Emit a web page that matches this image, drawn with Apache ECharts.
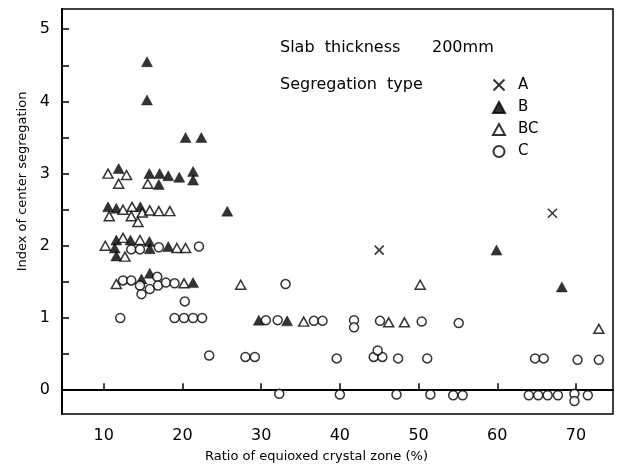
<!DOCTYPE html>
<html>
<head>
<meta charset="utf-8">
<script src="https://cdn.jsdelivr.net/npm/echarts@6/dist/echarts.min.js"></script>
<style>
  html, body { margin: 0; padding: 0; background: #fff; }
  #chart { width: 618px; height: 473px; }
</style>
</head>
<body>
<div id="chart"></div>
<script>
// 数据: [比例 %, 偏析指数]
var typeA = [[45.0, 1.94], [67.0, 2.45]];
var typeB = [
  [15.5, 4.55], [15.5, 4.02], [20.4, 3.5], [22.4, 3.5],
  [11.9, 3.07], [15.8, 3.0], [17.1, 3.0], [18.2, 2.97], [19.6, 2.95], [21.35, 3.03], [21.35, 2.91], [17.0, 2.85],
  [10.55, 2.54], [11.6, 2.52], [14.65, 2.54], [25.7, 2.48],
  [11.6, 2.08], [13.4, 2.08], [15.8, 2.06], [11.4, 1.97], [11.6, 1.86], [15.85, 1.96], [18.2, 1.99],
  [14.8, 1.54], [15.85, 1.62], [21.35, 1.49],
  [29.7, 0.97], [33.3, 0.96],
  [59.9, 1.94], [68.2, 1.43]
];
var typeBC = [
  [10.55, 3.0], [12.9, 2.98], [11.9, 2.86], [15.6, 2.86],
  [10.7, 2.41], [12.45, 2.5], [13.6, 2.54], [13.5, 2.41], [14.9, 2.46], [14.35, 2.33], [15.85, 2.49], [17.0, 2.48], [18.4, 2.48],
  [10.2, 2.0], [12.45, 2.11], [14.6, 2.08], [12.7, 1.85], [19.3, 1.97], [20.4, 1.97],
  [11.6, 1.47], [20.2, 1.48], [27.4, 1.46], [50.2, 1.46],
  [35.4, 0.95], [46.2, 0.94], [48.2, 0.94], [72.9, 0.85]
];
var typeC = [
  [13.5, 1.95], [14.6, 1.95], [17.0, 1.98], [22.1, 1.99],
  [12.45, 1.52], [13.5, 1.52], [14.6, 1.45], [16.8, 1.57], [15.85, 1.40], [16.9, 1.45], [14.8, 1.33], [17.9, 1.49], [19.0, 1.48], [20.3, 1.23],
  [12.1, 1.0], [19.0, 1.0], [20.2, 1.0], [21.35, 1.0], [22.5, 1.0],
  [33.1, 1.47],
  [30.6, 0.97], [32.1, 0.97], [36.7, 0.96], [37.8, 0.96], [41.8, 0.97], [41.8, 0.87], [45.1, 0.96], [50.4, 0.95], [55.1, 0.93],
  [23.4, 0.48], [28.0, 0.46], [29.2, 0.46], [39.6, 0.44], [44.3, 0.46], [45.4, 0.46], [44.8, 0.55], [47.4, 0.44], [51.1, 0.44],
  [64.8, 0.44], [65.9, 0.44], [70.2, 0.42], [72.9, 0.42],
  [32.3, -0.05], [40.0, -0.06], [47.2, -0.06], [51.5, -0.06], [54.4, -0.07], [55.6, -0.07],
  [64.0, -0.07], [65.2, -0.07], [66.4, -0.07], [67.7, -0.07], [69.8, -0.05], [69.8, -0.15], [71.5, -0.07]
];
var xTicks = [10, 20, 30, 40, 50, 60, 70];
var yTicks = [0, 0.5, 1, 1.5, 2, 2.5, 3, 3.5, 4, 4.5, 5];
var yLabels = [0, 1, 2, 3, 4, 5];

var chart = echarts.init(document.getElementById('chart'));
var font = 'DejaVu Sans';
var crossPath = 'path://M0,0L10,10M10,0L0,10';

var option = {
  animation: false,
  textStyle: { fontFamily: font, color: '#000' },
  grid: {
    left: 62, right: 5, top: 9, bottom: 59,
    show: true, borderColor: '#000', borderWidth: 1.5
  },
  xAxis: {
    type: 'value',
    min: 4.7, max: 74.7,
    name: 'Ratio of equioxed crystal zone (%)',
    nameLocation: 'middle',
    nameGap: 36,
    nameTextStyle: { fontSize: 13, color: '#000', padding: [0, 42, 0, 0] },
    splitLine: { show: false },
    axisLine: { lineStyle: { color: '#000', width: 2 } },
    axisTick: { inside: true, length: 7, customValues: xTicks, lineStyle: { color: '#000', width: 1.5 } },
    axisLabel: { customValues: xTicks, fontSize: 16, color: '#000', margin: 14 }
  },
  yAxis: {
    type: 'value',
    min: -0.33, max: 5.28,
    name: 'Index of center segregation',
    nameLocation: 'middle',
    nameRotate: 90,
    nameGap: 26,
    nameTextStyle: { fontSize: 13, color: '#000', padding: [0, 0, 0, 60] },
    splitLine: { show: false },
    axisLine: { lineStyle: { color: '#000', width: 2 } },
    axisTick: { inside: true, length: 7, customValues: yTicks, lineStyle: { color: '#000', width: 1.5 } },
    axisLabel: { customValues: yLabels, fontSize: 16, color: '#000', margin: 12 }
  },
  legend: {
    orient: 'vertical',
    left: 486, top: 72,
    itemWidth: 12, itemHeight: 11, itemGap: 7,
    textStyle: { fontSize: 15, color: '#000', fontFamily: font, padding: [0, 0, 0, 8] },
    data: ['A', 'B', 'BC', 'C']
  },
  graphic: [
    { type: 'text', left: 280, top: 40, style: { text: 'Slab  thickness', font: '16px "DejaVu Sans"', fill: '#000' } },
    { type: 'text', left: 432, top: 40, style: { text: '200mm', font: '16px "DejaVu Sans"', fill: '#000' } },
    { type: 'text', left: 280, top: 77, style: { text: 'Segregation  type', font: '16px "DejaVu Sans"', fill: '#000' } }
  ],
  series: [
    {
      name: 'A', type: 'scatter', data: typeA,
      symbol: crossPath, symbolSize: 9,
      itemStyle: { color: 'none', borderColor: '#000', borderWidth: 1.5 }
    },
    {
      name: 'B', type: 'scatter', data: typeB,
      symbol: 'triangle', symbolSize: [11, 10],
      itemStyle: { color: '#000', borderColor: '#000', borderWidth: 0.5 }
    },
    {
      name: 'BC', type: 'scatter', data: typeBC,
      symbol: 'triangle', symbolSize: [10, 9],
      itemStyle: { color: '#fff', borderColor: '#000', borderWidth: 1.5 }
    },
    {
      name: 'C', type: 'scatter', data: typeC,
      symbol: 'circle', symbolSize: 9,
      itemStyle: { color: '#fff', borderColor: '#000', borderWidth: 1.5 }
    }
  ]
};

chart.setOption(option);
</script>
</body>
</html>
